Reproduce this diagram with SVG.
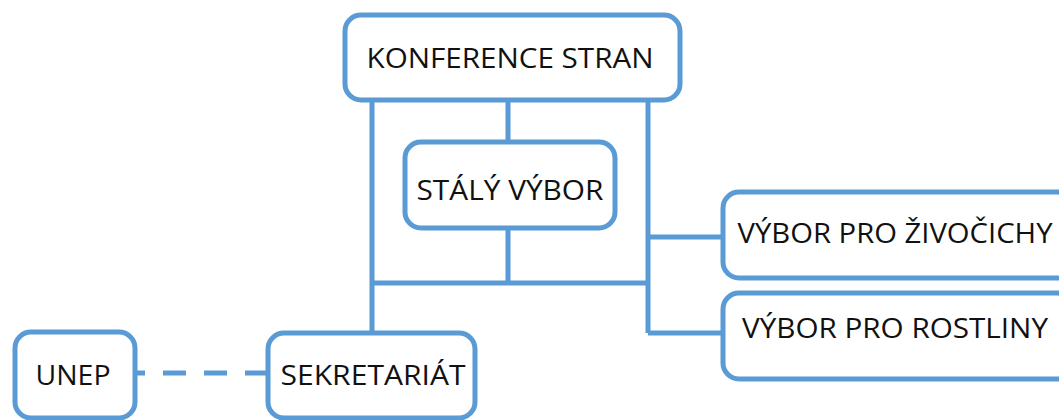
<svg xmlns="http://www.w3.org/2000/svg" width="1059" height="420" viewBox="0 0 1059 420">
<style>
.box{fill:#fff;stroke:#5b9bd5;stroke-width:5}
.ln{fill:none;stroke:#5b9bd5;stroke-width:5}
.t{font-family:"Open Sans","Liberation Sans",sans-serif;font-size:27px;fill:#111;text-anchor:middle}
</style>
<rect width="1059" height="420" fill="#fff"/>
<g id="connectors">
<path class="ln" d="M372 100V333M508 100V142M648 100V333M508 228V283M372 283H648M648 237H723M648 333H723"/>
<path class="ln" d="M268 373H135" stroke-dasharray="23 18"/>
</g>
<g id="konference"><rect class="box" x="345" y="15" width="335" height="85" rx="16"/><text class="t" x="510" y="68" textLength="287" lengthAdjust="spacingAndGlyphs">KONFERENCE STRAN</text></g>
<g id="staly"><rect class="box" x="405" y="142" width="210" height="86" rx="16"/><text class="t" x="510" y="200" textLength="187" lengthAdjust="spacingAndGlyphs">STÁLÝ VÝBOR</text></g>
<g id="zivocichy"><rect class="box" x="723" y="192" width="350" height="86" rx="16"/><text class="t" x="895" y="243" textLength="315" lengthAdjust="spacingAndGlyphs">VÝBOR PRO ŽIVOČICHY</text></g>
<g id="rostliny"><rect class="box" x="723" y="293" width="350" height="86" rx="16"/><text class="t" x="895" y="338" textLength="306" lengthAdjust="spacingAndGlyphs">VÝBOR PRO ROSTLINY</text></g>
<g id="unep"><rect class="box" x="15" y="332" width="120" height="86" rx="16"/><text class="t" x="73" y="385" textLength="75" lengthAdjust="spacingAndGlyphs">UNEP</text></g>
<g id="sekretariat"><rect class="box" x="268" y="333" width="207" height="85" rx="16"/><text class="t" x="373" y="385" textLength="185" lengthAdjust="spacingAndGlyphs">SEKRETARIÁT</text></g>
</svg>
